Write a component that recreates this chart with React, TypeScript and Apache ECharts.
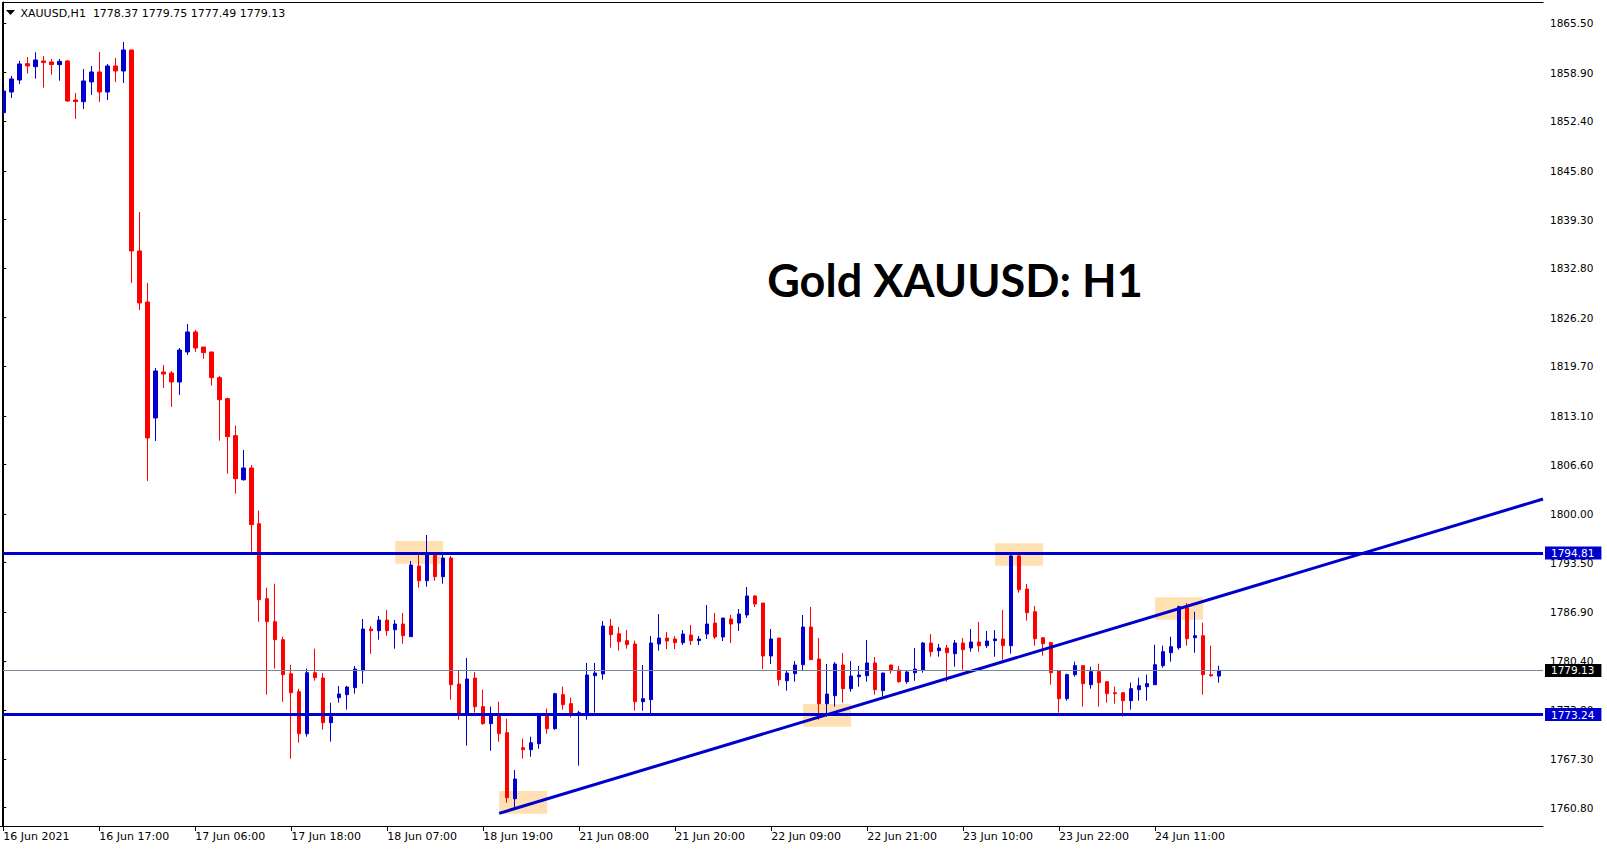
import React, { useEffect, useRef } from "react";
import * as echarts from "echarts";

// ---- data: hourly candles [open, close, low, high] ----
const day16 = [
  [1853.57, 1856.46, 1853.17, 1856.6], [1856.33, 1858.07, 1855.53, 1858.47], [1857.93, 1860.07, 1857.4, 1860.47],
  [1860.11, 1859.8, 1858.78, 1861.0], [1859.71, 1860.6, 1858.11, 1861.63], [1860.47, 1860.25, 1856.91, 1861.14],
  [1860.34, 1859.98, 1858.64, 1860.74], [1859.98, 1860.42, 1857.84, 1860.74], [1860.47, 1855.13, 1855.0, 1860.6],
  [1855.26, 1855.04, 1852.73, 1856.2], [1855.04, 1857.8, 1854.06, 1859.4], [1857.67, 1859.0, 1855.93, 1859.8],
  [1859.0, 1856.33, 1855.0, 1861.67], [1856.33, 1859.8, 1855.26, 1860.07], [1859.8, 1859.13, 1857.67, 1860.87],
  [1859.13, 1861.94, 1857.53, 1863.0], [1861.94, 1835.11, 1830.84, 1861.94], [1835.11, 1828.17, 1827.23, 1840.31],
  [1828.3, 1810.15, 1804.41, 1830.84],
];
const day17 = [
  [1812.82, 1819.09, 1809.75, 1819.49], [1818.96, 1818.69, 1816.82, 1819.89], [1818.82, 1817.62, 1814.29, 1819.09],
  [1817.62, 1821.89, 1815.89, 1822.16], [1821.63, 1824.3, 1821.23, 1825.36], [1824.3, 1822.16, 1821.63, 1824.57],
  [1822.29, 1821.54, 1820.73, 1822.29], [1821.63, 1818.2, 1817.13, 1821.63], [1818.2, 1815.26, 1809.79, 1818.42],
  [1815.4, 1810.32, 1805.38, 1815.53], [1810.46, 1804.72, 1802.72, 1811.79], [1804.58, 1806.14, 1804.45, 1808.54],
  [1806.14, 1798.58, 1794.97, 1806.54], [1798.71, 1788.57, 1785.63, 1800.45], [1788.7, 1785.63, 1775.89, 1790.17],
  [1785.63, 1783.23, 1779.36, 1790.7], [1783.23, 1778.56, 1774.95, 1783.63], [1778.69, 1776.15, 1767.34, 1779.89],
  [1776.29, 1770.68, 1769.48, 1776.69], [1770.68, 1778.82, 1770.28, 1779.36], [1778.82, 1778.16, 1777.76, 1782.03],
  [1778.11, 1772.15, 1771.22, 1778.78], [1772.15, 1772.95, 1769.62, 1774.82],
];
const day18 = [
  [1775.49, 1775.98, 1774.82, 1777.05], [1775.89, 1776.91, 1773.89, 1777.05], [1776.82, 1779.31, 1776.02, 1779.72],
  [1779.09, 1784.65, 1777.36, 1785.99], [1784.65, 1784.43, 1781.36, 1785.05], [1784.43, 1785.85, 1783.23, 1786.39],
  [1785.85, 1784.43, 1783.76, 1787.19], [1784.56, 1785.32, 1782.03, 1785.85], [1785.32, 1783.76, 1782.69, 1786.79],
  [1783.63, 1793.19, 1783.63, 1793.73], [1793.06, 1791.1, 1790.17, 1794.66], [1791.1, 1794.53, 1790.3, 1797.2],
  [1794.53, 1791.64, 1791.1, 1794.66], [1791.64, 1794.13, 1790.7, 1794.53], [1794.13, 1777.22, 1775.22, 1794.4],
  [1777.31, 1773.35, 1772.55, 1779.05], [1773.35, 1777.98, 1769.08, 1780.78], [1778.11, 1774.28, 1773.48, 1778.91],
  [1774.29, 1772.02, 1771.88, 1776.56], [1772.02, 1773.22, 1768.41, 1774.29], [1773.22, 1770.68, 1769.61, 1774.95],
  [1770.81, 1762.14, 1761.47, 1772.68], [1762.0, 1764.63, 1760.8, 1765.83],
];
const day21 = [
  [1768.81, 1768.55, 1767.35, 1770.01], [1768.55, 1769.48, 1767.61, 1770.28], [1769.35, 1773.22, 1768.68, 1773.22],
  [1773.22, 1771.35, 1770.68, 1774.02], [1771.35, 1776.02, 1771.21, 1776.15], [1775.89, 1774.55, 1773.89, 1776.96],
  [1774.69, 1773.48, 1772.82, 1775.49], [1773.22, 1773.48, 1766.41, 1773.75], [1773.22, 1778.51, 1772.55, 1780.12],
  [1778.42, 1778.78, 1773.48, 1780.12], [1778.65, 1785.05, 1777.89, 1785.72], [1785.05, 1783.9, 1782.16, 1785.99],
  [1784.03, 1782.96, 1781.76, 1784.92], [1783.1, 1782.56, 1782.03, 1784.52], [1782.65, 1774.95, 1773.75, 1783.1],
  [1774.95, 1775.35, 1773.75, 1779.85], [1775.22, 1782.78, 1773.4, 1783.72], [1782.65, 1783.45, 1781.76, 1786.65],
  [1783.45, 1783.05, 1781.98, 1784.25], [1783.32, 1782.83, 1781.98, 1783.72], [1782.83, 1783.98, 1782.52, 1784.52],
  [1783.85, 1783.1, 1782.52, 1785.19], [1783.1, 1783.32, 1782.52, 1783.72],
];
const day22 = [
  [1783.98, 1785.32, 1783.32, 1787.86], [1785.45, 1783.59, 1783.32, 1786.79], [1783.59, 1786.12, 1783.05, 1786.12],
  [1785.99, 1785.32, 1782.78, 1786.52], [1785.45, 1786.65, 1784.39, 1787.32], [1786.52, 1789.06, 1786.12, 1790.26],
  [1789.06, 1787.99, 1787.59, 1789.19], [1788.12, 1781.05, 1779.31, 1788.12], [1781.05, 1783.32, 1779.98, 1784.65],
  [1783.45, 1777.89, 1777.09, 1783.45], [1777.75, 1778.78, 1776.42, 1779.05], [1778.69, 1779.85, 1777.62, 1780.38],
  [1779.89, 1784.92, 1779.09, 1786.52], [1784.92, 1780.56, 1780.56, 1787.59], [1780.65, 1774.68, 1772.55, 1783.45],
  [1774.68, 1775.97, 1772.95, 1779.98], [1775.75, 1779.98, 1774.29, 1780.25], [1779.85, 1776.69, 1774.82, 1781.45],
  [1776.69, 1778.38, 1776.29, 1780.38], [1778.29, 1778.51, 1776.95, 1779.72], [1778.42, 1780.12, 1777.62, 1783.18],
  [1780.12, 1776.56, 1775.89, 1780.92], [1776.42, 1778.78, 1775.62, 1778.78],
];
const day23 = [
  [1779.85, 1779.09, 1778.69, 1779.85], [1779.18, 1777.62, 1777.49, 1779.72], [1777.62, 1778.91, 1777.35, 1779.18],
  [1778.82, 1779.31, 1777.75, 1782.12], [1779.18, 1782.78, 1778.82, 1782.92], [1782.78, 1781.62, 1780.96, 1783.98],
  [1781.76, 1782.12, 1780.96, 1782.65], [1782.12, 1781.49, 1777.62, 1782.52], [1781.36, 1782.78, 1779.62, 1783.18],
  [1782.78, 1781.89, 1779.22, 1783.45], [1782.12, 1782.92, 1781.62, 1784.65], [1782.92, 1782.43, 1781.62, 1785.59],
  [1782.43, 1783.05, 1782.12, 1784.39], [1783.1, 1783.32, 1780.96, 1784.52], [1783.32, 1782.43, 1780.56, 1787.19],
  [1782.43, 1794.4, 1781.36, 1794.66], [1794.4, 1789.9, 1789.5, 1794.66], [1789.99, 1786.83, 1785.77, 1790.66],
  [1786.96, 1783.36, 1782.43, 1787.72], [1783.49, 1782.69, 1781.09, 1783.49], [1782.83, 1778.82, 1777.22, 1782.96],
  [1779.09, 1775.35, 1773.48, 1779.09], [1775.35, 1778.56, 1775.09, 1778.69],
];
const day24 = [
  [1778.56, 1779.76, 1778.29, 1780.29], [1779.76, 1777.36, 1774.28, 1779.76], [1777.22, 1778.96, 1776.69, 1779.62],
  [1778.96, 1777.49, 1774.28, 1780.02], [1777.62, 1776.02, 1774.82, 1777.62], [1776.15, 1776.02, 1774.68, 1776.95],
  [1776.15, 1775.09, 1772.95, 1776.15], [1775.09, 1776.69, 1773.89, 1777.49], [1776.55, 1777.09, 1775.09, 1778.16],
  [1776.95, 1777.36, 1775.09, 1778.56], [1777.22, 1779.89, 1777.22, 1782.56], [1779.76, 1781.63, 1779.49, 1782.43],
  [1781.49, 1782.29, 1780.29, 1783.63], [1782.16, 1787.63, 1781.89, 1787.77], [1787.5, 1783.36, 1782.43, 1788.12],
  [1783.49, 1783.76, 1781.49, 1786.96], [1783.76, 1778.56, 1775.89, 1785.5], [1778.56, 1778.42, 1778.29, 1782.43],
  [1778.37, 1779.13, 1777.49, 1779.75],
];

const xTickLabels = [
  "16 Jun 2021", "16 Jun 17:00", "17 Jun 06:00", "17 Jun 18:00", "18 Jun 07:00", "18 Jun 19:00", "21 Jun 08:00",
  "21 Jun 20:00", "22 Jun 09:00", "22 Jun 21:00", "23 Jun 10:00", "23 Jun 22:00", "24 Jun 11:00",
];
const BARS_PER_TICK = 12;
const yTickValues = [
  1865.5, 1858.9, 1852.4, 1845.8, 1839.3, 1832.8, 1826.2, 1819.7, 1813.1, 1806.6, 1800.0, 1793.5, 1786.9,
  1780.4, 1773.8, 1767.3, 1760.8,
];
const Y_MIN = 1758.36;
const Y_MAX = 1868.34;
const TOTAL_SLOTS = 193; // bars + empty right margin of the chart window

const resistanceLevel = 1794.81;
const supportLevel = 1773.24;
const trendLine = [[62, 1760.05], [192.5, 1802.0]]; // [bar index, price]
const touchZones = [
  [[49, 1793.37], [55, 1796.4]],
  [[62, 1760.0], [68, 1763.03]],
  [[100, 1771.6], [106, 1774.66]],
  [[124, 1793.1], [130, 1796.1]],
  [[144, 1785.9], [150, 1788.9]],
];
const symbolName = "XAUUSD,H1";
const titleText = "Gold XAUUSD: H1";

const candles = [...day16, ...day17, ...day18, ...day21, ...day22, ...day23, ...day24];
const lastBar = candles[candles.length - 1];
const lastPrice = lastBar[1];

const BLUE = "#0000CD";
const RED = "#FF0000";
const AXIS_FONT = "DejaVu Sans";

export default function App() {
  const ref = useRef<HTMLDivElement>(null);
  useEffect(() => {
    if (!ref.current) return;
    const chart = echarts.init(ref.current, undefined, { renderer: "svg" });
    const slots = Array.from({ length: TOTAL_SLOTS }, (_, i) => String(i));
    const showTick = (i: number) => i % BARS_PER_TICK === 0 && i / BARS_PER_TICK < xTickLabels.length;
    const levelLabel = (bg: string) => ({
      show: true,
      position: "end",
      distance: 2,
      formatter: (p: any) => Number(p.value).toFixed(2),
      color: "#fff",
      backgroundColor: bg,
      fontFamily: AXIS_FONT,
      fontSize: 10.5,
      lineHeight: 12,
      padding: [1, 7, 0, 6],
    });
    chart.setOption({
      animation: false,
      backgroundColor: "#fff",
      grid: { left: -0.7, right: 64, top: 2, bottom: 24, containLabel: false, outerBoundsMode: "none" },
      xAxis: [
        {
          type: "category",
          data: slots,
          boundaryGap: true,
          axisLine: { show: true, lineStyle: { color: "#000", width: 1 } },
          axisTick: { show: true, interval: (i: number) => showTick(i), alignWithLabel: true, length: 5, lineStyle: { color: "#000" } },
          axisLabel: {
            interval: (i: number) => showTick(i),
            formatter: (_v: string, i: number) => (showTick(i) ? xTickLabels[i / BARS_PER_TICK] : ""),
            align: "left",
            margin: 5,
            color: "#000",
            fontFamily: AXIS_FONT,
            fontSize: 11,
          },
          splitLine: { show: false },
        },
        { type: "value", min: -0.5, max: TOTAL_SLOTS - 0.5, show: false },
      ],
      yAxis: {
        type: "value",
        position: "right",
        min: Y_MIN,
        max: Y_MAX,
        axisLine: { show: true, lineStyle: { color: "#000", width: 1 } },
        axisTick: { show: true, customValues: yTickValues, length: 3, lineStyle: { color: "#000" } },
        axisLabel: {
          customValues: yTickValues,
          formatter: (v: number) => v.toFixed(2),
          margin: 7,
          color: "#000",
          fontFamily: AXIS_FONT,
          fontSize: 10.5,
        },
        splitLine: { show: false },
      },
      series: [
        {
          name: "zones",
          type: "line",
          xAxisIndex: 1,
          data: [],
          z: 1,
          markArea: {
            silent: true,
            itemStyle: { color: "#FFE0B2" },
            data: touchZones.map(([a, b]) => [{ coord: a }, { coord: b }]),
          },
        },
        {
          name: "XAUUSD",
          type: "candlestick",
          data: candles,
          barWidth: 4,
          z: 2,
          itemStyle: { color: BLUE, color0: RED, borderColor: BLUE, borderColor0: RED, borderWidth: 1 },
        },
        {
          name: "trend",
          type: "line",
          xAxisIndex: 1,
          data: trendLine,
          showSymbol: false,
          symbol: "none",
          lineStyle: { color: BLUE, width: 3 },
          z: 3,
          markLine: {
            silent: true,
            symbol: ["none", "none"],
            data: [
              { yAxis: lastPrice, lineStyle: { color: "#778899", width: 1, type: "solid" }, label: levelLabel("#000") },
              { yAxis: resistanceLevel, lineStyle: { color: BLUE, width: 3, type: "solid" }, label: levelLabel(BLUE) },
              { yAxis: supportLevel, lineStyle: { color: BLUE, width: 3, type: "solid" }, label: levelLabel(BLUE) },
            ],
          },
        },
      ],
      graphic: [
        { type: "rect", z: 40, shape: { x: 0, y: 0, width: 2, height: 826 }, style: { fill: "#fff" } },
        { type: "line", z: 41, shape: { x1: 2.5, y1: 2.5, x2: 2.5, y2: 826 }, style: { stroke: "#000", lineWidth: 1 } },
        { type: "line", z: 41, shape: { x1: 2, y1: 2.5, x2: 1543.5, y2: 2.5 }, style: { stroke: "#000", lineWidth: 1 } },
        { type: "polygon", z: 41, shape: { points: [[6, 10], [15, 10], [10.5, 15]] }, style: { fill: "#000" } },
        {
          type: "text",
          z: 41,
          x: 20.5,
          y: 13,
          style: {
            text: `${symbolName}  ${lastBar[0].toFixed(2)} ${lastBar[3].toFixed(2)} ${lastBar[2].toFixed(2)} ${lastBar[1].toFixed(2)}`,
            fill: "#000",
            font: `11px "${AXIS_FONT}"`,
            align: "left",
            verticalAlign: "middle",
            textAlign: "left",
            textVerticalAlign: "middle",
          },
        },
        {
          type: "text",
          z: 41,
          x: 955,
          y: 280,
          style: {
            text: titleText,
            fill: "#000",
            font: "bold 45px Lato",
            align: "center",
            verticalAlign: "middle",
            textAlign: "center",
            textVerticalAlign: "middle",
          },
        },
      ],
    });
    return () => chart.dispose();
  }, []);
  return <div ref={ref} style={{ position: "fixed", left: 0, top: 0, width: 1607, height: 850 }} />;
}
